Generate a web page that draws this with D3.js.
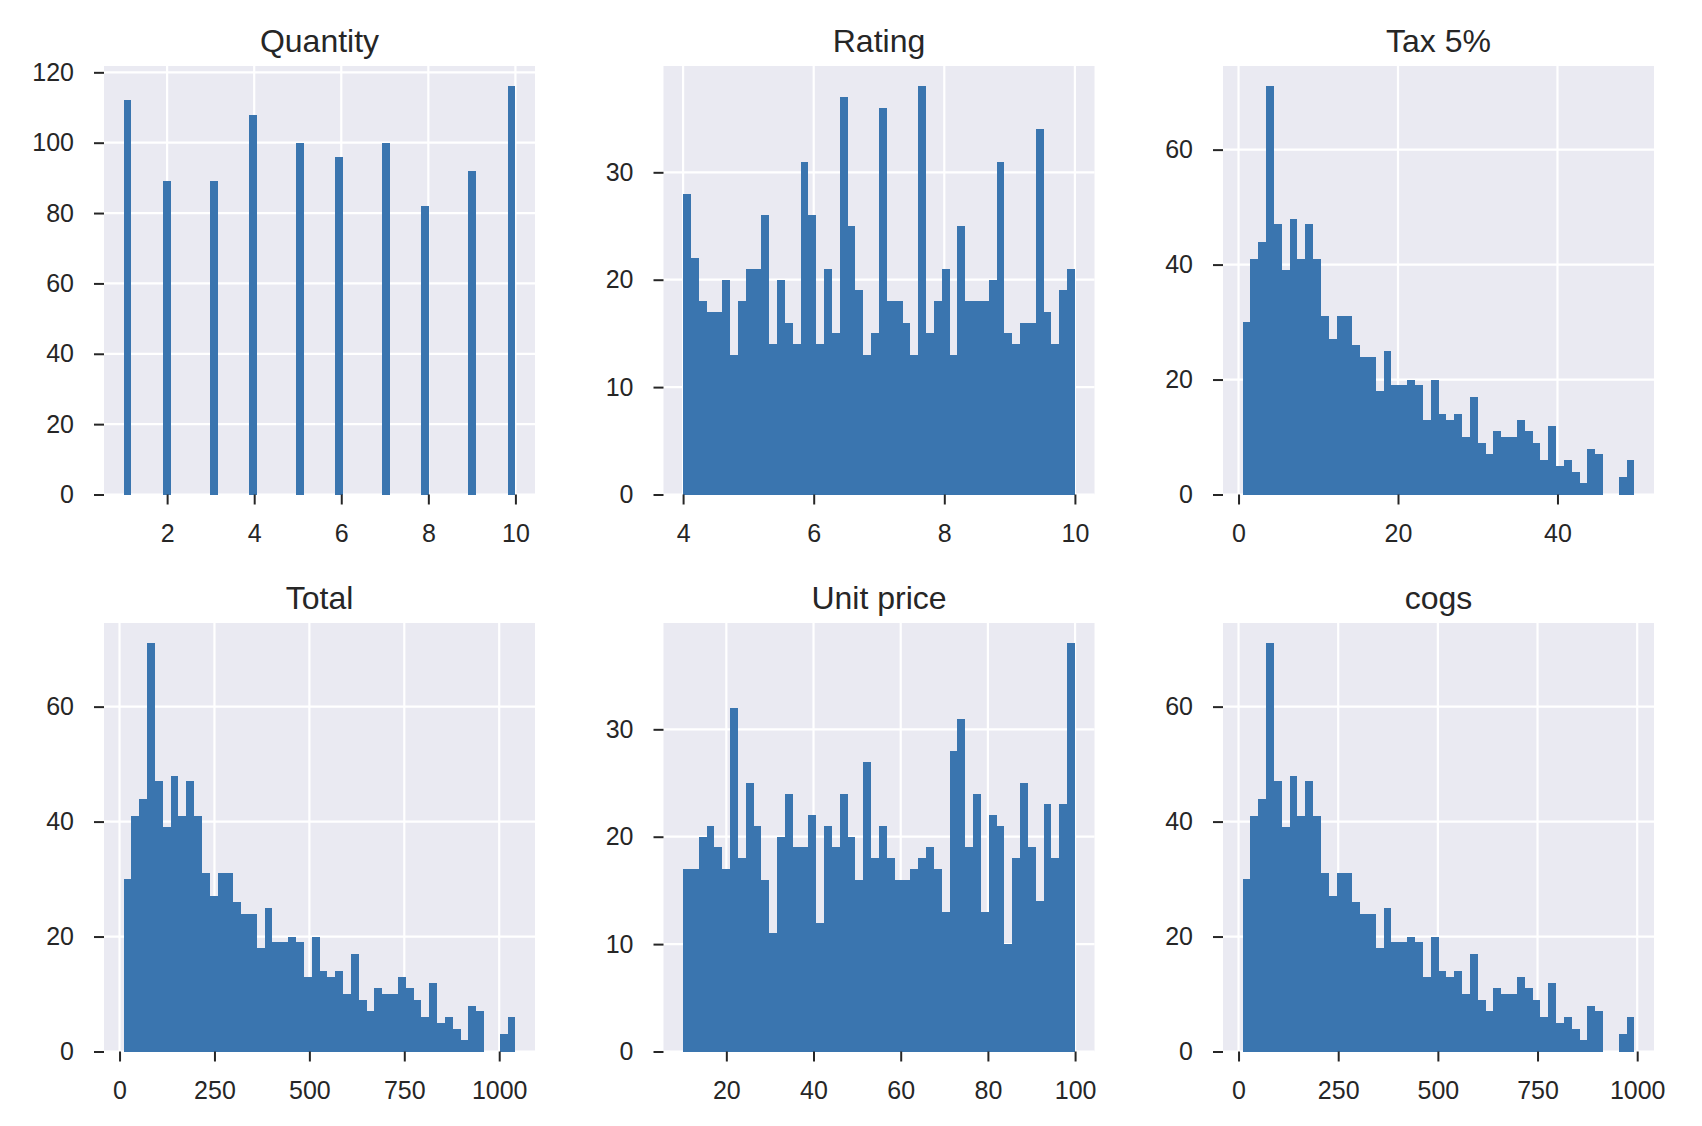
<!DOCTYPE html>
<html><head><meta charset="utf-8">
<script src="https://cdn.jsdelivr.net/npm/d3@7"></script>
<style>
body{margin:0;background:#fff}
svg{display:block}
text{font-family:"Liberation Sans",Arial,Helvetica,sans-serif;fill:#262626}
</style>
</head><body>
<svg id="chart" width="1702" height="1126"></svg>
<script>
// ---------- data ----------
const titles = ["Quantity", "Rating", "Tax 5%", "Total", "Unit price", "cogs"];

const quantityValues = [1, 2, 3, 4, 5, 6, 7, 8, 9, 10];
const quantityCounts = [112, 89, 89, 108, 100, 96, 100, 82, 92, 116];
const quantityRange = [1, 10];

const ratingRange = [4.0, 10.0];
const ratingCounts = [28,22,18,17,17,20,13,18,21,21, 26,14,20,16,14,31,26,14,21,15,
                      37,25,19,13,15,36,18,18,16,13, 38,15,18,21,13,25,18,18,18,20,
                      31,15,14,16,16,34,17,14,19,21];

const taxRange = [0.5085, 49.65];
const taxCounts = [30,41,44,71,47,39,48,41,47,41, 31,27,31,31,26,24,24,18,25,19,
                   19,20,19,13,20,14,13,14,10,17, 9,7,11,10,10,13,11,9,6,12,
                   5,6,4,2,8,7,0,0,3,6];

const totalRange = [10.6785, 1042.65];
const totalCounts = [30,41,44,71,47,39,48,41,47,41, 31,27,31,31,26,24,24,18,25,19,
                     19,20,19,13,20,14,13,14,10,17, 9,7,11,10,10,13,11,9,6,12,
                     5,6,4,2,8,7,0,0,3,6];

const unitPriceRange = [10.08, 99.96];
const unitPriceCounts = [17,17,20,21,19,17,32,18,25,21, 16,11,20,24,19,19,22,12,21,19,
                         24,20,16,27,18,21,18,16,16,17, 18,19,17,13,28,31,19,24,13,22,
                         21,10,18,25,19,14,23,18,23,38];

const cogsRange = [10.17, 993.0];
const cogsCounts = [30,41,44,71,47,39,48,41,47,41, 31,27,31,31,26,24,24,18,25,19,
                    19,20,19,13,20,14,13,14,10,17, 9,7,11,10,10,13,11,9,6,12,
                    5,6,4,2,8,7,0,0,3,6];

const xTickValues = [[2,4,6,8,10],[4,6,8,10],[0,20,40],[0,250,500,750,1000],[20,40,60,80,100],[0,250,500,750,1000]];
const yTickValues = [[0,20,40,60,80,100,120],[0,10,20,30],[0,20,40,60],[0,20,40,60],[0,10,20,30],[0,20,40,60]];

const NBINS = 50;

// ---------- build bins ----------
function binsFromCounts(range, counts) {
  const w = (range[1] - range[0]) / counts.length;
  return counts.map((n, i) => ({x0: range[0] + i * w, x1: range[0] + (i + 1) * w, n}));
}
function binsFromValues(range, values, counts) {
  const w = (range[1] - range[0]) / NBINS;
  const arr = d3.range(NBINS).map(i => ({x0: range[0] + i * w, x1: range[0] + (i + 1) * w, n: 0}));
  values.forEach((v, k) => {
    const idx = Math.min(NBINS - 1, Math.floor((v - range[0]) / w + 1e-9));
    arr[idx].n += counts[k];
  });
  return arr;
}

const panels = [
  {range: quantityRange, bins: binsFromValues(quantityRange, quantityValues, quantityCounts)},
  {range: ratingRange, bins: binsFromCounts(ratingRange, ratingCounts)},
  {range: taxRange, bins: binsFromCounts(taxRange, taxCounts)},
  {range: totalRange, bins: binsFromCounts(totalRange, totalCounts)},
  {range: unitPriceRange, bins: binsFromCounts(unitPriceRange, unitPriceCounts)},
  {range: cogsRange, bins: binsFromCounts(cogsRange, cogsCounts)}
];

// ---------- layout ----------
const colLeft = [104, 663.5, 1223];
const rowTop = [66, 623];
const PW = 431, PH = 428.5;
const BG = "#EAEAF2", BAR = "#3A75AF", INK = "#262626";
const TICK_FONT = 25, TITLE_FONT = 32;

const svg = d3.select("#chart");

panels.forEach((p, i) => {
  const left = colLeft[i % 3], top = rowTop[Math.floor(i / 3)];
  const right = left + PW, bottom = top + PH;
  const span = p.range[1] - p.range[0];
  const x = d3.scaleLinear().domain([p.range[0] - 0.05 * span, p.range[1] + 0.05 * span]).range([left, right]);
  const maxN = d3.max(p.bins, d => d.n);
  const y = d3.scaleLinear().domain([0, maxN * 1.05]).range([bottom, top]);

  const g = svg.append("g");
  g.append("rect").attr("x", left).attr("y", top).attr("width", PW).attr("height", PH).attr("fill", BG);

  // grid
  g.selectAll(".gx").data(xTickValues[i]).enter().append("line")
    .attr("x1", d => x(d)).attr("x2", d => x(d)).attr("y1", top).attr("y2", bottom)
    .attr("stroke", "#fff").attr("stroke-width", 2.2);
  g.selectAll(".gy").data(yTickValues[i]).enter().append("line")
    .attr("x1", left).attr("x2", right).attr("y1", d => y(d)).attr("y2", d => y(d))
    .attr("stroke", "#fff").attr("stroke-width", 2.2);

  // bars
  g.selectAll(".bar").data(p.bins.filter(b => b.n > 0)).enter().append("rect")
    .attr("x", d => x(d.x0)).attr("width", d => x(d.x1) - x(d.x0))
    .attr("y", d => y(d.n)).attr("height", d => y(0) - y(d.n))
    .attr("fill", BAR).attr("shape-rendering", "crispEdges");

  // axes via d3
  const xAxis = d3.axisBottom(x).tickValues(xTickValues[i]).tickSize(10).tickPadding(20).tickFormat(d3.format("d"));
  const yAxis = d3.axisLeft(y).tickValues(yTickValues[i]).tickSize(10).tickPadding(20).tickFormat(d3.format("d"));
  const ax = g.append("g").attr("transform", `translate(0,${bottom})`).call(xAxis);
  const ay = g.append("g").attr("transform", `translate(${left},0)`).call(yAxis);
  [ax, ay].forEach(a => {
    a.select(".domain").remove();
    a.selectAll(".tick line").attr("stroke", INK).attr("stroke-width", 2);
    a.selectAll(".tick text").attr("fill", INK).style("font-size", TICK_FONT + "px")
      .style("font-family", '"Liberation Sans",Arial,sans-serif');
  });

  g.append("text").attr("x", (left + right) / 2).attr("y", top - 14)
    .attr("text-anchor", "middle").style("font-size", TITLE_FONT + "px").text(titles[i]);
});
</script>
</body></html>
